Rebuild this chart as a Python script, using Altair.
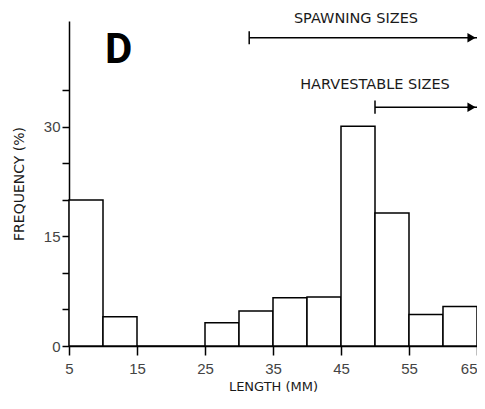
import altair as alt
import pandas as pd

# Histogram bins (length, mm) and frequency (%)
bin_start = [5, 10, 15, 20, 25, 30, 35, 40, 45, 50, 55, 60]
bin_end = [10, 15, 20, 25, 30, 35, 40, 45, 50, 55, 60, 65]
frequency = [20.0, 4.0, 0.0, 0.0, 3.2, 4.8, 6.6, 6.7, 30.1, 18.2, 4.3, 5.4]

# Axis ticks / labels
x_ticks = [5, 10, 15, 20, 25, 30, 35, 40, 45, 50, 55, 60, 65]
x_labels = [5, 15, 25, 35, 45, 55, 65]
y_ticks = [0, 5, 10, 15, 20, 25, 30, 35]
y_labels = [0, 15, 30]

# Size-range annotations
range_names = ["SPAWNING SIZES", "HARVESTABLE SIZES"]
range_start = [31.5, 50.0]
range_end = [65.0, 65.0]
range_level = [42.2, 32.7]
range_text_x = [47.2, 50.0]
range_text_y = [44.75, 35.8]

panel_letter = ["D"]
panel_x = [12.3]
panel_y = [40.5]

bars = pd.DataFrame({"start": bin_start, "end": bin_end, "freq": frequency})
ranges = pd.DataFrame({
    "name": range_names, "start": range_start, "end": range_end,
    "level": range_level, "tx": range_text_x, "ty": range_text_y,
})
letter = pd.DataFrame({"t": panel_letter, "x": panel_x, "y": panel_y})

xscale = alt.Scale(domain=[5, 65], nice=False, zero=False, padding=0)
yscale = alt.Scale(domain=[0, 44.5], nice=False, padding=0)

label_list = ",".join(str(v) for v in x_labels)
ylabel_list = ",".join(str(v) for v in y_labels)
last_x = x_labels[-1]

xaxis = alt.Axis(values=x_ticks, title="LENGTH (MM)",
                 labelExpr=f"indexof([{label_list}], datum.value) >= 0 ? datum.label : ''",
                 labelAlign={"condition": {"test": f"datum.value == {last_x}", "value": "right"},
                             "value": "center"},
                 tickSize=9, labelPadding=6, titlePadding=4, titleFontSize=13)
yaxis = alt.Axis(values=y_ticks, title="FREQUENCY (%)",
                 labelExpr=f"indexof([{ylabel_list}], datum.value) >= 0 ? datum.label : ''",
                 tickSize=7, labelPadding=2, titlePadding=17)

hist = alt.Chart(bars).mark_bar(fill="white", stroke="black", strokeWidth=1.5,
                                orient="vertical").encode(
    x=alt.X("start:Q", scale=xscale, axis=xaxis),
    x2="end:Q",
    y=alt.Y("freq:Q", scale=yscale, axis=yaxis),
    y2=alt.datum(0),
)

lines = alt.Chart(ranges).mark_rule(stroke="black", strokeWidth=1.5, clip=False).encode(
    x="start:Q", x2="end:Q", y="level:Q",
)
starts = alt.Chart(ranges).transform_calculate(
    lo="datum.level - 0.9", hi="datum.level + 0.9"
).mark_rule(stroke="black", strokeWidth=1.5, clip=False).encode(
    x="start:Q", y="lo:Q", y2="hi:Q",
)
heads = alt.Chart(ranges).transform_calculate(
    hx="datum.end - 0.8"
).mark_point(shape="triangle-right", filled=True, color="black", size=90, opacity=1, clip=False).encode(
    x="hx:Q", y="level:Q",
)
texts = alt.Chart(ranges).mark_text(font="DejaVu Sans", fontSize=14.5, color="#1a1a1a",
                                    align="center", baseline="middle", clip=False).encode(
    x="tx:Q", y="ty:Q", text="name:N",
)
dletter = alt.Chart(letter).mark_text(font="Roboto", fontWeight="bold", fontSize=42,
                                      color="black", align="center", baseline="middle").encode(
    x="x:Q", y="y:Q", text="t:N",
)

chart = alt.layer(hist, lines, starts, heads, texts, dletter).properties(
    width=408, height=325,
    autosize=alt.AutoSizeParams(type="none"),
    padding={"left": 61, "top": 13, "right": 0, "bottom": 50},
).configure_view(stroke=None).configure_axis(
    grid=False, domainColor="black", domainWidth=1.5, tickColor="black", tickWidth=1.5,
    labelFont="Liberation Sans", labelFontSize=15, labelColor="#444",
    titleFont="DejaVu Sans", titleFontSize=14, titleFontWeight="normal", titleColor="#1a1a1a",
)

chart.save("out.html", embed_options={"renderer": "svg", "actions": False})
